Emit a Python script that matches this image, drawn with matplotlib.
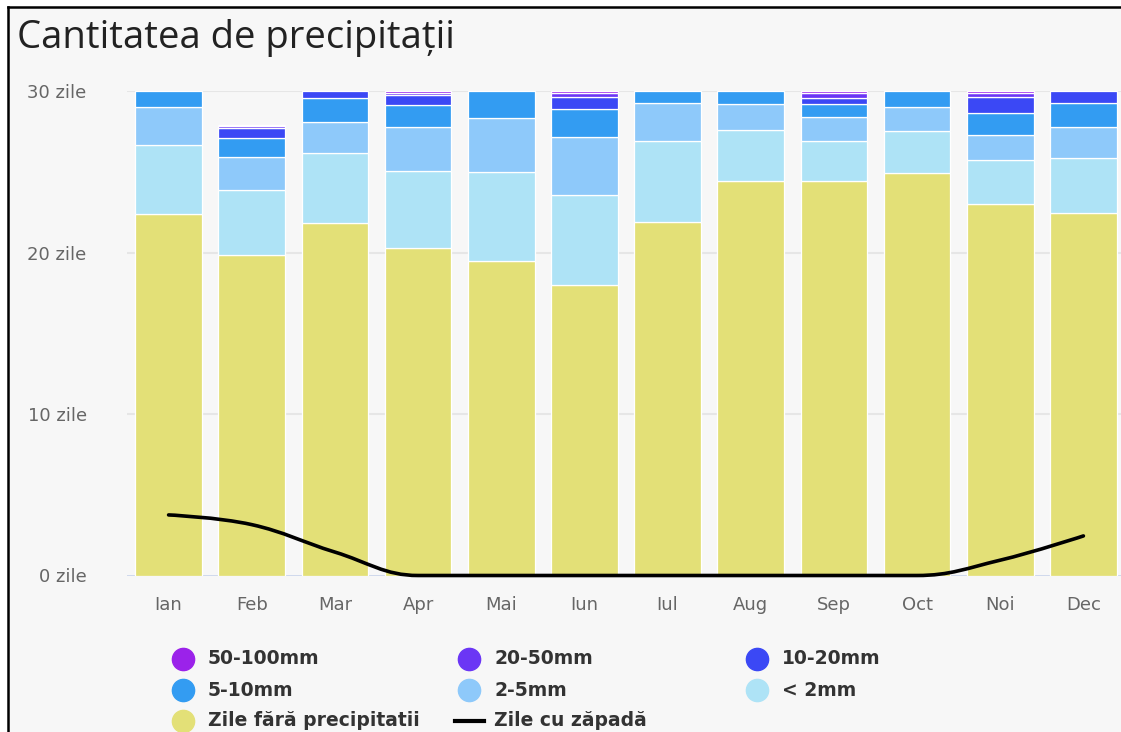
import matplotlib

matplotlib.use("Agg")
import matplotlib.pyplot as plt  # noqa: E402
import numpy as np  # noqa: E402
from matplotlib.lines import Line2D  # noqa: E402
from matplotlib.patches import PathPatch, Rectangle  # noqa: E402
from matplotlib.path import Path  # noqa: E402

# ---------------------------------------------------------------- data
MONTHS = ["Ian", "Feb", "Mar", "Apr", "Mai", "Iun", "Iul", "Aug", "Sep", "Oct", "Noi", "Dec"]
DRY = [22.4, 19.85, 21.8, 20.3, 19.5, 18.0, 21.9, 24.4, 24.4, 24.9, 23.0, 22.45]
LT2 = [4.25, 4.0, 4.35, 4.75, 5.5, 5.55, 5.0, 3.2, 2.5, 2.6, 2.75, 3.4]
MM2_5 = [2.35, 2.05, 1.9, 2.7, 3.3, 3.6, 2.35, 1.6, 1.5, 1.5, 1.55, 1.9]
MM5_10 = [1.0, 1.2, 1.5, 1.4, 1.7, 1.75, 0.75, 0.8, 0.8, 1.0, 1.35, 1.5]
MM10_20 = [0, 0.6, 0.45, 0.6, 0, 0.75, 0, 0, 0.35, 0, 0.95, 0.75]
MM20_50 = [0, 0.15, 0, 0.15, 0, 0.25, 0, 0, 0.3, 0, 0.3, 0]
MM50_100 = [0, 0.05, 0, 0.1, 0, 0.1, 0, 0, 0.15, 0, 0.1, 0]
SNOW = [3.75, 3.15, 1.45, 0, 0, 0, 0, 0, 0, 0, 0.95, 2.45]

YTICKS = [0, 10, 20, 30]
YTICKLABELS = ["0 zile", "10 zile", "20 zile", "30 zile"]

# stack order bottom -> top
STACK = [
    (DRY, "#e3e077", "Zile fără precipitatii"),
    (LT2, "#aee3f6", "< 2mm"),
    (MM2_5, "#8ec9fa", "2-5mm"),
    (MM5_10, "#339cf2", "5-10mm"),
    (MM10_20, "#3b48f5", "10-20mm"),
    (MM20_50, "#6b36f5", "20-50mm"),
    (MM50_100, "#9b22ea", "50-100mm"),
]
BG = "#f7f7f7"
W, H = 1121, 732


def spline_path(xs, ys, smoothing=1.5):
    """Highcharts-style spline through the points, as cubic Bezier segments."""
    n = len(xs)
    left = [None] * n
    right = [None] * n
    denom = smoothing + 1
    for i in range(1, n - 1):
        px, py = xs[i], ys[i]
        lx, ly = xs[i - 1], ys[i - 1]
        nx, ny = xs[i + 1], ys[i + 1]
        lcx = (smoothing * px + lx) / denom
        lcy = (smoothing * py + ly) / denom
        rcx = (smoothing * px + nx) / denom
        rcy = (smoothing * py + ny) / denom
        if rcx != lcx:
            corr = (rcy - lcy) * (rcx - px) / (rcx - lcx) + py - rcy
            lcy += corr
            rcy += corr
        if lcy > max(ly, py):
            lcy = max(ly, py); rcy = 2 * py - lcy
        elif lcy < min(ly, py):
            lcy = min(ly, py); rcy = 2 * py - lcy
        if rcy > max(py, ny):
            rcy = max(py, ny); lcy = 2 * py - rcy
        elif rcy < min(py, ny):
            rcy = min(py, ny); lcy = 2 * py - rcy
        left[i] = (lcx, lcy)
        right[i] = (rcx, rcy)
    verts = [(xs[0], ys[0])]
    codes = [Path.MOVETO]
    for i in range(n - 1):
        c1 = right[i] if right[i] else (xs[i], ys[i])
        c2 = left[i + 1] if left[i + 1] else (xs[i + 1], ys[i + 1])
        verts += [c1, c2, (xs[i + 1], ys[i + 1])]
        codes += [Path.CURVE4] * 3
    return Path(verts, codes)


def main():
    fig = plt.figure(figsize=(W / 100, H / 100), dpi=100)
    fig.patch.set_facecolor(BG)

    # plot area in pixel coordinates of the screenshot
    x0, x1, ytop, ybot = 127, 1125, 91, 575.5
    ax = fig.add_axes([x0 / W, (H - ybot) / H, (x1 - x0) / W, (ybot - ytop) / H])
    ax.set_facecolor(BG)

    x = np.arange(len(MONTHS))
    bottom = np.zeros(len(MONTHS))
    for vals, col, _ in STACK:
        v = np.array(vals, dtype=float)
        m = v > 0
        ax.bar(x[m], v[m], bottom=bottom[m], width=0.8, color=col,
               edgecolor="white", linewidth=0.9, zorder=3)
        bottom += v

    path = spline_path(list(x.astype(float)), SNOW)
    ax.add_patch(PathPatch(path, fill=False, edgecolor="black", lw=2.6,
                           capstyle="round", joinstyle="round", zorder=5, clip_on=False))

    ax.set_xlim(-0.5, len(MONTHS) - 0.5)
    ax.set_ylim(0, 30)
    ax.set_yticks(YTICKS)
    ax.set_yticklabels(YTICKLABELS)
    ax.set_xticks(x)
    ax.set_xticklabels(MONTHS)
    for yv in YTICKS[1:]:
        ax.axhline(yv, color="#e6e6e6", lw=1.5, zorder=1)
    ax.axhline(0, color="#ccd6eb", lw=2, zorder=2)
    for s in ax.spines.values():
        s.set_visible(False)
    ax.tick_params(axis="both", length=0, colors="#666666", labelsize=13)
    ax.tick_params(axis="y", pad=29)
    ax.tick_params(axis="x", pad=15)

    fig.text(17 / W, 1 - 38 / H, "Cantitatea de precipitații", fontsize=27.5,
             family="Open Sans", color="#222222", ha="left", va="center")

    # legend, laid out in three columns
    items = [STACK[6], STACK[5], STACK[4], STACK[3], STACK[2], STACK[1], STACK[0]]
    mx = [183, 469, 757]
    rows = [659, 690, 721]
    for k, (_, col, lab) in enumerate(items):
        r, c = divmod(k, 3)
        fig.add_artist(Line2D([mx[c] / W], [1 - rows[r] / H], marker="o", ms=16,
                              mfc=col, mec=col, ls="none", transform=fig.transFigure))
        fig.text((mx[c] + 25) / W, 1 - rows[r] / H, lab, fontsize=13.5, fontweight="bold",
                 color="#333333", ha="left", va="center")
    fig.add_artist(Line2D([455 / W, 484 / W], [1 - 721 / H] * 2, color="black", lw=3,
                          transform=fig.transFigure))
    fig.text(494 / W, 1 - 721 / H, "Zile cu zăpadă", fontsize=13.5, fontweight="bold",
             color="#333333", ha="left", va="center")

    # screenshot frame
    fig.add_artist(Rectangle((0, 1 - 6 / H), 1, 6 / H, color="white", transform=fig.transFigure))
    fig.add_artist(Rectangle((0, 0), 7 / W, 1, color="white", transform=fig.transFigure))
    fig.add_artist(Line2D([7.5 / W, 1], [1 - 7 / H] * 2, color="black", lw=1.8,
                          transform=fig.transFigure))
    fig.add_artist(Line2D([8 / W] * 2, [0, 1 - 7 / H], color="black", lw=1.8,
                          transform=fig.transFigure))

    fig.savefig("out.png", dpi=100, facecolor=fig.get_facecolor())
    plt.close(fig)


if __name__ == "__main__":
    main()
